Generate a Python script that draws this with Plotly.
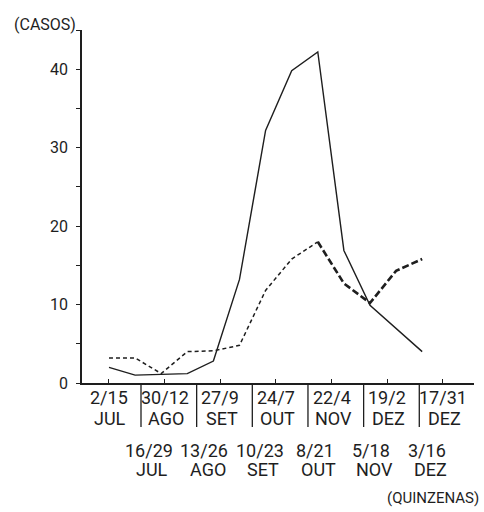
import plotly.graph_objects as go

# ---------------- data ----------------
quinzena = list(range(13))  # 13 fortnights, 2 Jul .. 31 Dec
casos_solid = [2.0, 1.0, 1.1, 1.2, 2.8, 13.2, 32.2, 39.8, 42.2, 16.9, 9.9, 7.0, 4.0]
casos_dashed = [3.2, 3.2, 1.2, 4.0, 4.1, 4.8, 11.8, 15.8, 18.0, 12.7, 10.2, 14.3, 15.8]

labels_top_days = ["2/15", "30/12", "27/9", "24/7", "22/4", "19/2", "17/31"]
labels_top_months = ["JUL", "AGO", "SET", "OUT", "NOV", "DEZ", "DEZ"]
labels_bottom_days = ["16/29", "13/26", "10/23", "8/21", "5/18", "3/16"]
labels_bottom_months = ["JUL", "AGO", "SET", "OUT", "NOV", "DEZ"]

y_ticks = [0, 10, 20, 30, 40]
y_title = "(CASOS)"
x_title = "(QUINZENAS)"

# ---------------- style ----------------
INK = "#1e1e1e"
FONT = "Roboto, 'DejaVu Sans', sans-serif"
W, H = 484, 512
ML, MR, MT, MB = 82, 10, 30, 129
BASE = H - MB  # pixel row of the x axis

fig = go.Figure()

fig.add_trace(go.Scatter(
    x=quinzena, y=casos_solid, mode="lines",
    line=dict(color=INK, width=1.4), showlegend=False, hoverinfo="skip"))

split = 8
fig.add_trace(go.Scatter(
    x=quinzena[:split + 1], y=casos_dashed[:split + 1], mode="lines",
    line=dict(color=INK, width=1.5, dash="4px,3px"), showlegend=False, hoverinfo="skip"))
fig.add_trace(go.Scatter(
    x=quinzena[split:], y=casos_dashed[split:], mode="lines",
    line=dict(color=INK, width=2.6, dash="7px,3px"), showlegend=False, hoverinfo="skip"))

annotations = []
shapes = []
for i, (d, m) in enumerate(zip(labels_top_days, labels_top_months)):
    k = 2 * i
    annotations.append(dict(x=k, y=0, xref="x2", yref="paper", text=d, showarrow=False,
                            yanchor="middle", yshift=-(397 - BASE), font=dict(size=18)))
    annotations.append(dict(x=k + 0.05, y=0, xref="x2", yref="paper", text=m, showarrow=False,
                            yanchor="middle", yshift=-(418 - BASE), font=dict(size=18)))
for i, (d, m) in enumerate(zip(labels_bottom_days, labels_bottom_months)):
    k = 2 * i + 1 + 0.42
    annotations.append(dict(x=k, y=0, xref="x2", yref="paper", text=d, showarrow=False,
                            yanchor="middle", yshift=-(450 - BASE), font=dict(size=18)))
    annotations.append(dict(x=k + 0.12, y=0, xref="x2", yref="paper", text=m, showarrow=False,
                            yanchor="middle", yshift=-(469 - BASE), font=dict(size=18)))
    shapes.append(dict(type="line", xref="x2", yref="paper", x0=2 * i + 1 + 0.15, x1=2 * i + 1 + 0.15,
                       y0=0, y1=-44 / (H - MT - MB), line=dict(color=INK, width=1.3)))

annotations.append(dict(x=0, y=1, xref="paper", yref="paper", text=y_title, showarrow=False,
                        xanchor="center", yanchor="middle", xshift=-(ML - 45), yshift=6,
                        font=dict(size=16)))
annotations.append(dict(x=1, y=0, xref="paper", yref="paper", text=x_title, showarrow=False,
                        xanchor="right", yanchor="middle", xshift=MR - 3, yshift=-(498 - BASE),
                        font=dict(size=15)))

fig.update_layout(
    width=W, height=H,
    margin=dict(l=ML, r=MR, t=MT, b=MB, pad=0),
    paper_bgcolor="white", plot_bgcolor="white",
    font=dict(family=FONT, color=INK),
    xaxis=dict(range=[-1.034, 13.985], showline=True, linecolor=INK, linewidth=1.5,
               ticks="", showticklabels=False, showgrid=False, zeroline=False, fixedrange=True),
    xaxis2=dict(range=[-0.970, 13.116], overlaying="x", anchor="y", side="bottom",
                tickvals=[0, 2, 4, 6, 8, 10, 12], ticks="inside", ticklen=4, tickcolor=INK,
                tickwidth=1.2, showticklabels=False, showline=False, showgrid=False,
                zeroline=False, fixedrange=True),
    yaxis=dict(range=[0, 45], showline=True, linecolor=INK, linewidth=1.5,
               ticks="outside", ticklen=4, tickcolor=INK, tickwidth=1.2,
               tickvals=y_ticks, tickfont=dict(size=16), ticklabelstandoff=5,
               minor=dict(dtick=5, tick0=0, ticks="outside", ticklen=4, tickcolor=INK, tickwidth=1.2),
               showgrid=False, zeroline=False, fixedrange=True),
    annotations=annotations,
    shapes=shapes,
)

fig.write_html("out.html", config={"displayModeBar": False},
               post_script="document.body.style.margin='0';document.body.style.overflow='hidden';")
